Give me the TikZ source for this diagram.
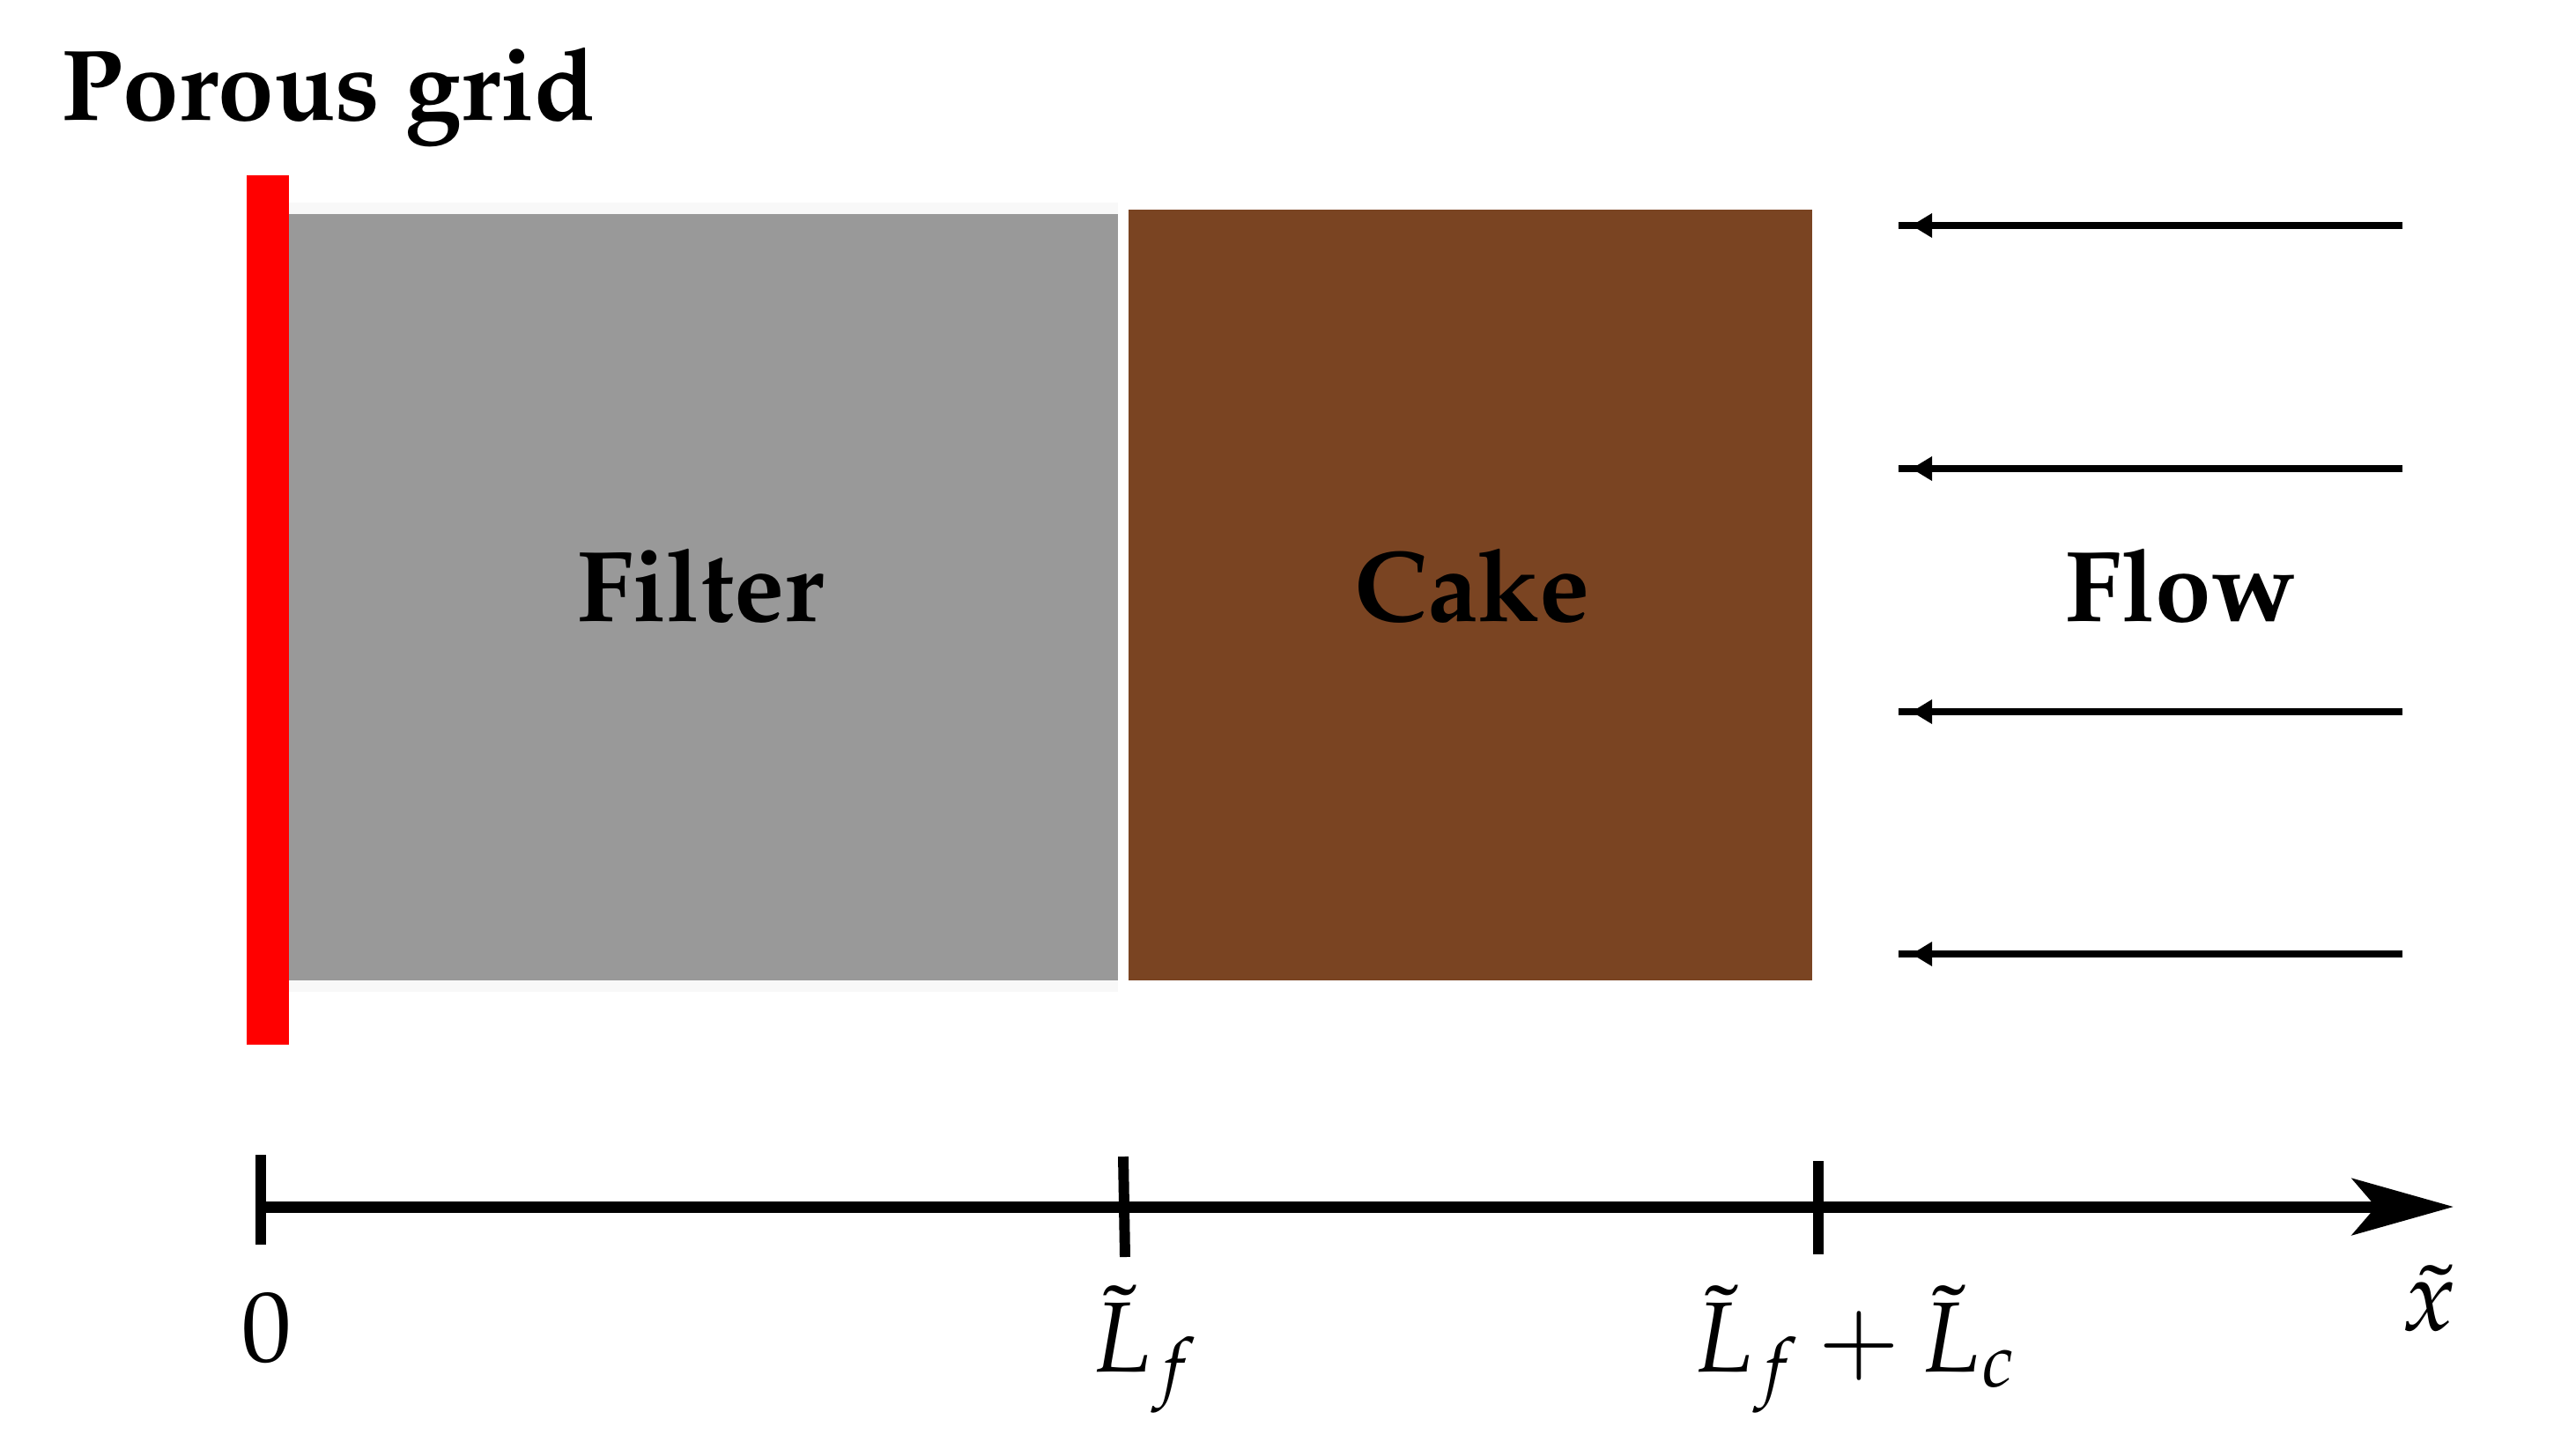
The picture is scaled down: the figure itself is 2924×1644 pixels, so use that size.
\documentclass[tikz,border=0pt]{standalone}
\usepackage[T1]{fontenc}
\usepackage{mathpazo}
\usetikzlibrary{arrows.meta}
\definecolor{cakebrown}{RGB}{122,68,34}
\definecolor{filtergrey}{RGB}{153,153,153}
\definecolor{halo}{RGB}{248,248,248}
\tikzset{
  bigtext/.style={font=\fontsize{32.5}{38}\selectfont\bfseries, inner sep=0pt, anchor=base},
  mathlabel/.style={font=\fontsize{32.2}{38}\selectfont, inner sep=0pt, anchor=base},
  flowline/.style={line width=2.3pt},
  axisline/.style={line width=3.7pt},
  tickline/.style={line width=3.4pt},
}
\begin{document}
\begin{tikzpicture}[x=0.01cm,y=-0.01cm]
\useasboundingbox (0,0) rectangle (2924,1644);
% filter with faint halo
\fill[halo] (328,230) rectangle (1269,1126);
\fill[filtergrey] (328,243) rectangle (1269,1113);
% cake
\fill[cakebrown] (1281,238) rectangle (2057,1113);
% porous grid
\fill[red] (280,199) rectangle (328,1186);
% labels
\node[bigtext, anchor=base west] (pg) at (69,136) {Porous grid};
\node[bigtext] (filter) at (795,705) {Filter};
\node[bigtext] (cake) at (1671,705) {Cake};
\node[bigtext] (flow) at (2475,705) {Flow};
% flow arrows
\foreach \yy/\nm in {256/a,532/b,808/c,1083/d}{
  \coordinate (fs\nm) at (2727,\yy);
  \coordinate (fe\nm) at (2155,\yy);
  \draw[flowline] (fs\nm) -- (fe\nm);
  \fill (2170,\yy) -- (2193,\yy-14) -- (2193,\yy+14) -- cycle;
}
% axis
\coordinate (ax0) at (296,1370);
\coordinate (ax1) at (2785,1370);
\draw[axisline, -{Stealth[length=1.15cm,width=0.64cm,inset=0.27cm]}] (ax0) -- (ax1);
\draw[tickline] (296,1311) -- (296,1413);
\draw[tickline] (1275,1313) -- (1277,1427);
\draw[tickline] (2064,1318) -- (2064,1424);
\node[mathlabel] (l0) at (303,1545) {$0$};
\node[mathlabel, anchor=base west] (lf) at (1238,1557) {$\tilde{L}_f$};
\node[mathlabel, anchor=base west] (lfc) at (1921,1557) {$\tilde{L}_f+\tilde{L}_c$};
\node[mathlabel] (lx) at (2757,1510) {$\tilde{x}$};
\end{tikzpicture}
\end{document}
